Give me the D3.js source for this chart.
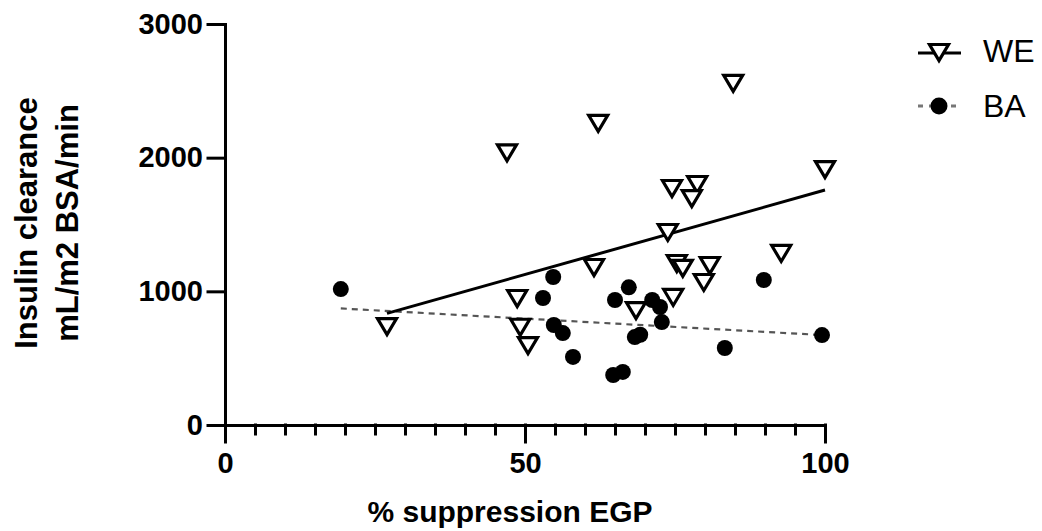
<!DOCTYPE html>
<html>
<head>
<meta charset="utf-8">
<script src="https://cdn.jsdelivr.net/npm/d3@7"></script>
<style>
  body { margin: 0; background: #fff; }
  text { font-family: "Liberation Sans", Arial, sans-serif; }
</style>
</head>
<body>
<div class="graphContainer"></div>
<script>
var width = 1042;
var height = 531;

// WE group (open triangles)
var weX = [27, 47, 48.7, 49.2, 50.5, 62.2, 61.5, 84.7, 100, 74.5, 78.7, 77.8, 73.8, 75.3, 76.3, 80.8, 79.8, 92.7, 74.7, 68.5];
var weY = [740, 2040, 950, 735, 598, 2260, 1182, 2560, 1915, 1773, 1803, 1698, 1444, 1212, 1175, 1197, 1070, 1287, 958, 860];

// BA group (filled circles)
var baX = [19.3, 54.7, 53, 54.8, 56.3, 58, 67.3, 65, 71.2, 72.5, 72.8, 68.3, 69.2, 64.7, 66.3, 83.3, 89.8, 99.5];
var baY = [1017, 1107, 950, 748, 688, 509, 1030, 935, 935, 883, 770, 658, 675, 374, 397, 576, 1085, 673];

// fitted lines
var weFitX = [27, 100];
var weFitY = [835, 1758];
var baFitX = [19.3, 99.5];
var baFitY = [872, 673];

var xTicks = [0, 50, 100];
var xMinorTicks = d3.range(5, 100, 5).filter((d) => d != 50);
var yTicks = [0, 1000, 2000, 3000];

var svg = d3
  .select(".graphContainer")
  .append("svg")
  .attr("width", width)
  .attr("height", height);

var xScale = d3.scaleLinear().domain([0, 100]).range([225, 825]);
var yScale = d3.scaleLinear().domain([0, 3000]).range([425, 24]);

// fit lines
var line = d3
  .line()
  .x((d) => xScale(d[0]))
  .y((d) => yScale(d[1]));

svg
  .append("path")
  .attr("d", line(d3.zip(baFitX, baFitY)))
  .attr("fill", "none")
  .attr("stroke", "#555")
  .attr("stroke-width", 2.2)
  .attr("stroke-dasharray", "6,5");

svg
  .append("path")
  .attr("d", line(d3.zip(weFitX, weFitY)))
  .attr("fill", "none")
  .attr("stroke", "#000")
  .attr("stroke-width", 3);

// axes
var yAxis = d3
  .axisLeft(yScale)
  .tickValues(yTicks)
  .tickFormat(d3.format("d"))
  .tickSize(17)
  .tickSizeOuter(0)
  .tickPadding(5);

var yAxisGroup = svg
  .append("g")
  .attr("transform", "translate(225,0)")
  .call(yAxis);

var xAxis = d3
  .axisBottom(xScale)
  .tickValues(xTicks)
  .tickFormat(d3.format("d"))
  .tickSize(17)
  .tickSizeOuter(0)
  .tickPadding(10);

var xAxisGroup = svg
  .append("g")
  .attr("transform", "translate(0,425)")
  .call(xAxis);

var xMinor = d3
  .axisBottom(xScale)
  .tickValues(xMinorTicks)
  .tickSize(9)
  .tickFormat("");

var xMinorGroup = svg
  .append("g")
  .attr("transform", "translate(0,425)")
  .call(xMinor);
xMinorGroup.select(".domain").remove();

[yAxisGroup, xAxisGroup, xMinorGroup].forEach(function (g) {
  g.selectAll("path, line")
    .attr("stroke", "#000")
    .attr("stroke-width", 3)
    .attr("stroke-linecap", "square");
  g.selectAll("text")
    .attr("fill", "#000")
    .style("font-family", '"Liberation Sans", Arial, sans-serif')
    .style("font-size", "29px")
    .style("font-weight", "bold");
});

// points
svg
  .append("g")
  .selectAll("circle")
  .data(d3.zip(baX, baY))
  .enter()
  .append("circle")
  .attr("cx", (d) => xScale(d[0]))
  .attr("cy", (d) => yScale(d[1]))
  .attr("r", 8)
  .attr("fill", "#000");

var tri = "M-9.5,-7.5L9.5,-7.5L0,8.5Z";

svg
  .append("g")
  .selectAll("path")
  .data(d3.zip(weX, weY))
  .enter()
  .append("path")
  .attr("d", tri)
  .attr("transform", (d) => "translate(" + xScale(d[0]) + "," + yScale(d[1]) + ")")
  .attr("fill", "#fff")
  .attr("stroke", "#000")
  .attr("stroke-width", 3.2)
  .attr("stroke-linejoin", "miter");

// axis titles
svg
  .append("text")
  .attr("x", 510)
  .attr("y", 522)
  .attr("text-anchor", "middle")
  .style("font-size", "30px")
  .style("font-weight", "bold")
  .text("% suppression EGP");

var yTitle = svg
  .append("text")
  .attr("transform", "translate(0,223) rotate(-90)")
  .attr("text-anchor", "middle")
  .style("font-size", "31px")
  .style("font-weight", "bold");
yTitle.append("tspan").attr("x", 0).attr("y", 37).text("Insulin clearance");
yTitle.append("tspan").attr("x", 0).attr("y", 78).text("mL/m2 BSA/min");

// legend
var legend = svg.append("g").attr("id", "legend");

legend
  .append("line")
  .attr("x1", 918)
  .attr("x2", 961)
  .attr("y1", 53)
  .attr("y2", 53)
  .attr("stroke", "#000")
  .attr("stroke-width", 3);
legend
  .append("path")
  .attr("d", tri)
  .attr("transform", "translate(939,52)")
  .attr("fill", "#fff")
  .attr("stroke", "#000")
  .attr("stroke-width", 3.2);
legend
  .append("text")
  .attr("x", 983)
  .attr("y", 62)
  .style("font-size", "32px")
  .text("WE");

legend
  .append("line")
  .attr("x1", 918)
  .attr("x2", 961)
  .attr("y1", 106)
  .attr("y2", 106)
  .attr("stroke", "#777")
  .attr("stroke-width", 3)
  .attr("stroke-dasharray", "5,6");
legend
  .append("circle")
  .attr("cx", 939)
  .attr("cy", 106)
  .attr("r", 8.5)
  .attr("fill", "#000");
legend
  .append("text")
  .attr("x", 983)
  .attr("y", 117)
  .style("font-size", "32px")
  .text("BA");
</script>
</body>
</html>
